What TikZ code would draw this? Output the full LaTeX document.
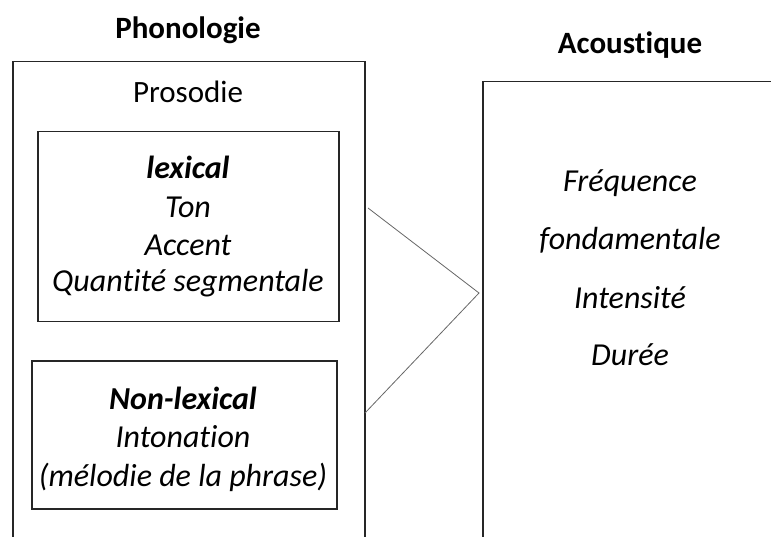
\documentclass[tikz,border=0pt]{standalone}
\usepackage{fontspec}
\setmainfont[Ligatures={NoCommon,NoRare}]{Carlito}
\begin{document}
\begin{tikzpicture}[x=1pt,y=-1pt,
  frame/.style={draw=black!85,line width=1.5pt,anchor=north west,inner sep=0pt},
  title/.style={font=\fontsize{31}{36}\selectfont\bfseries},
  body/.style={font=\fontsize{32}{36}\selectfont\itshape,align=center},
  link/.style={draw=black!60,line width=0.8pt}]
\useasboundingbox (0,0) rectangle (771,537);
\clip (0,0) rectangle (771,537);
% frames
\node[frame,minimum width=352pt,minimum height=520pt] (phon) at (12,61) {};
\node[frame,minimum width=320pt,minimum height=500pt] (acou) at (482,81) {};
\node[frame,minimum width=301pt,minimum height=190pt] (lex) at (37,131) {};
\node[frame,minimum width=305pt,minimum height=148pt] (nonlex) at (31,360) {};
% titles
\node[title] (tphon) at (188,30) {Phonologie};
\node[title] (tacou) at (630,45) {Acoustique};
\node[font=\fontsize{31}{36}\selectfont] (pros) at (188,92) {Prosodie};
% lexical
\node[body] (lexa) at (188,167) {\bfseries lexical};
\node[body] (lexb) at (188,207) {Ton};
\node[body] (lexc) at (188,245) {Accent};
\node[body] (lexd) at (188,283) {Quantité segmentale};
% non-lexical
\node[body] (nla) at (183,398) {\bfseries Non-lexical};
\node[body] (nlb) at (183,437) {Intonation};
\node[body] (nlc) at (183,477) {(mélodie de la phrase)};
% acoustic
\node[body] (ac1) at (630,183) {Fréquence};
\node[body] (ac2) at (630,240) {fondamentale};
\node[body] (ac3) at (630,298) {Intensité};
\node[body] (ac4) at (630,355) {Durée};
% connectors
\coordinate (c1) at (368,208);
\coordinate (c2) at (365,413);
\coordinate (tip) at (479,293);
\draw[link] (c1) -- (tip) -- (c2);
\end{tikzpicture}
\end{document}
